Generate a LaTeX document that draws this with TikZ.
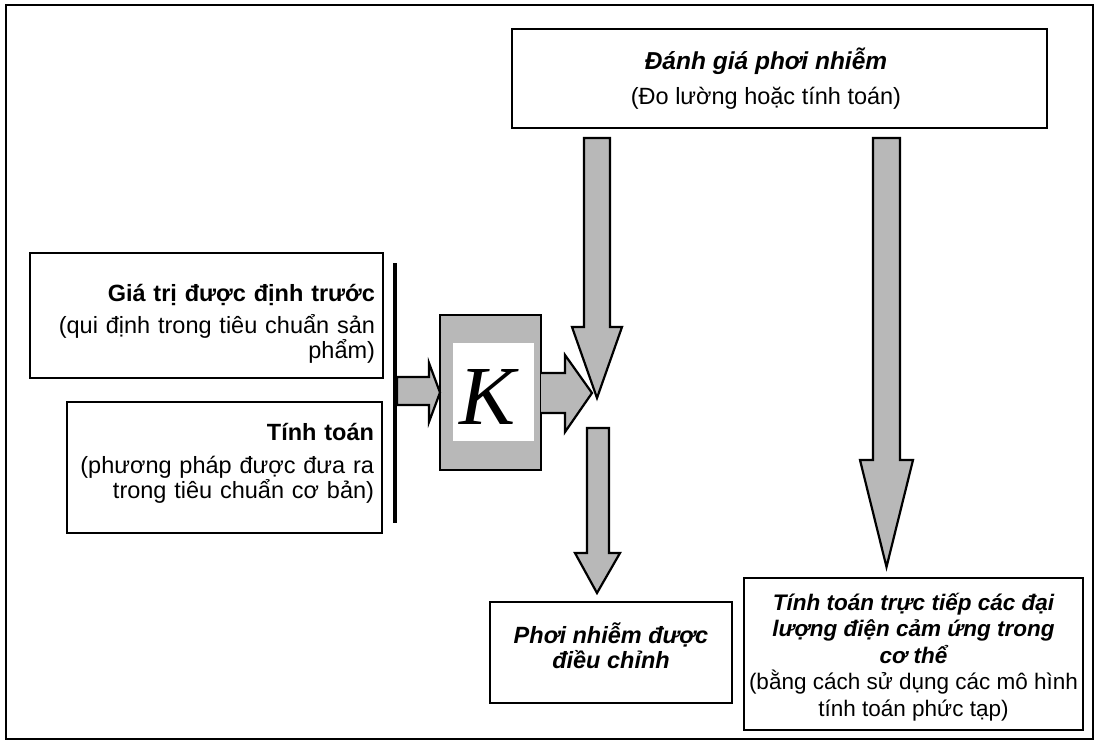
\documentclass[tikz,border=0pt]{standalone}
\usepackage{fontspec}
\setmainfont{Liberation Sans}
\newfontfamily\kfont{Liberation Serif}
\begin{document}
\begin{tikzpicture}[x=1pt,y=-1pt,
  box/.style={draw, line width=1.6pt, rectangle, inner sep=0pt},
  txt/.style={font=\fontsize{23.5}{25}\selectfont, inner sep=0pt},
  arr/.style={draw, line width=2.2pt, fill=black!28, line join=miter}]
\useasboundingbox (0,0) rectangle (1095,741);
\draw[line width=2pt] (6,5) rectangle (1093,739);

% boxes
\node[box, minimum width=535pt, minimum height=99pt] (expo) at (779.5,78.5) {};
\node[txt, align=center] (expotext) at (766,78.5)
  {{\fontsize{24.5}{25}\selectfont\bfseries\itshape Đánh giá phơi nhiễm}\\[10pt](Đo lường hoặc tính toán)};

\node[box, minimum width=353pt, minimum height=125pt] (preset) at (206.5,315.5) {};
\node[txt, text width=337pt, align=right] (presettext) at (206.5,324)
  {{\bfseries Giá trị được định trước}\\[7pt](qui định trong tiêu chuẩn sản\\phẩm)};

\node[box, minimum width=315pt, minimum height=131pt] (calc) at (224.5,467.5) {};
\node[txt, text width=299pt, align=right] (calctext) at (224.5,463)
  {{\bfseries Tính toán}\\[8pt](phương pháp được đưa ra\\trong tiêu chuẩn cơ bản)};

\node[box, minimum width=242pt, minimum height=101pt] (adj) at (611,652.5) {};
\node[txt, align=center] (adjtext) at (611,646)
  {\bfseries\itshape Phơi nhiễm được\\\bfseries\itshape điều chỉnh};

\node[box, minimum width=339pt, minimum height=152pt] (direct) at (913.5,654) {};
\node[txt, align=center, font=\fontsize{22.5}{26.5}\selectfont] (directtext) at (913.5,657)
  {{\bfseries\itshape Tính toán trực tiếp các đại}\\{\bfseries\itshape lượng điện cảm ứng trong}\\{\bfseries\itshape cơ thể}\\(bằng cách sử dụng các mô hình\\tính toán phức tạp)};

% K block
\node[draw, line width=2pt, fill=black!28, minimum width=101pt, minimum height=155pt, inner sep=0pt] (kbox) at (490.5,392.5) {};
\node[fill=white, minimum width=81pt, minimum height=98pt, inner sep=0pt] (kin) at (493.5,392) {};
\node[font=\kfont\itshape\fontsize{84}{84}\selectfont, inner sep=0pt] (k) at (488,397) {K};

% block arrows
\draw[arr] (397,377) -- (429,377) -- (429,363) -- (440,392.5) -- (429,422) -- (429,405) -- (397,405) -- cycle;
\draw[arr] (541,373) -- (565,373) -- (565,355) -- (592,393) -- (565,432) -- (565,413) -- (541,413);
\draw[arr] (584,138) -- (610,138) -- (610,327) -- (622,327) -- (597,398) -- (572,327) -- (584,327) -- cycle;
\draw[arr] (587,428) -- (609,428) -- (609,553) -- (620,553) -- (597,593) -- (575,553) -- (587,553) -- cycle;
\draw[arr] (873,138) -- (900,138) -- (900,460) -- (913,460) -- (886.5,567) -- (860,460) -- (873,460) -- cycle;

% vertical bar
\coordinate (bartop) at (395,263);
\coordinate (barbot) at (395,523);
\draw[line width=4pt] (bartop) -- (barbot);
\end{tikzpicture}
\end{document}
